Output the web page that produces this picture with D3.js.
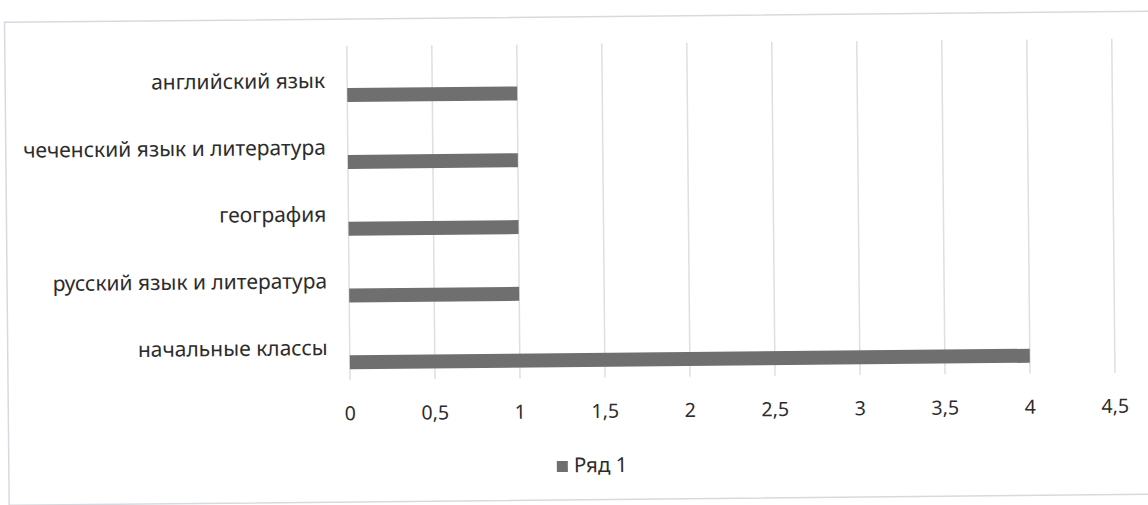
<!DOCTYPE html>
<html>
<head>
<meta charset="utf-8">
<script src="https://cdn.jsdelivr.net/npm/d3@7"></script>
<style>
    body { margin: 0; background: #ffffff; }
    text { font-family: "Noto Sans", "Open Sans", sans-serif; fill: #2c2c2c; }
</style>
</head>
<body>
<script>
// categories top to bottom, as on the chart
var categories = ["английский язык", "чеченский язык и литература", "география", "русский язык и литература", "начальные классы"];
var values = [1, 1, 1, 1, 4];
var xTicks = [0, 0.5, 1, 1.5, 2, 2.5, 3, 3.5, 4, 4.5];
var seriesName = "Ряд 1";

var width = 1148,
    height = 505;

var svg = d3.select("body").append("svg")
    .attr("width", width)
    .attr("height", height);

// the scan is slightly tilted
var chart = svg.append("g")
    .attr("transform", "rotate(-0.55, 350, 380)");

// chart border
chart.append("rect")
    .attr("x", 8)
    .attr("y", 19)
    .attr("width", 1160)
    .attr("height", 483)
    .attr("fill", "none")
    .attr("stroke", "#d6dae0")
    .attr("stroke-width", 1.5);

var x = d3.scaleLinear()
    .domain([0, 4.5])
    .range([350, 1115]);

var y = d3.scaleBand()
    .domain(categories)
    .range([46, 380]);

var commaFormat = d3.formatLocale({decimal: ",", thousands: " ", grouping: [3], currency: ["", ""]}).format("~g");

// vertical gridlines
chart.selectAll("line.grid")
    .data(xTicks)
    .enter().append("line")
    .attr("class", "grid")
    .attr("x1", function(d){ return x(d); })
    .attr("x2", function(d){ return x(d); })
    .attr("y1", y.range()[0])
    .attr("y2", y.range()[1])
    .attr("stroke", "#dcdfe4")
    .attr("stroke-width", 1.5);

// bars sit in the lower part of each band
var barHeight = 14;
chart.selectAll("rect.bar")
    .data(values)
    .enter().append("rect")
    .attr("class", "bar")
    .attr("x", x(0))
    .attr("y", function(d, i){ return y(categories[i]) + y.bandwidth() * 0.63; })
    .attr("width", function(d){ return x(d) - x(0); })
    .attr("height", barHeight)
    .attr("fill", "#6f6f6f");

// category labels
chart.selectAll("text.cat")
    .data(categories)
    .enter().append("text")
    .attr("class", "cat")
    .attr("x", 328)
    .attr("y", function(d){ return y(d) + y.bandwidth() * 0.54; })
    .attr("text-anchor", "end")
    .attr("dominant-baseline", "middle")
    .attr("font-size", 21)
    .text(function(d){ return d; });

// x tick labels
chart.selectAll("text.tick")
    .data(xTicks)
    .enter().append("text")
    .attr("class", "tick")
    .attr("x", function(d){ return x(d); })
    .attr("y", 415)
    .attr("text-anchor", "middle")
    .attr("dominant-baseline", "middle")
    .attr("font-size", 19.5)
    .text(function(d){ return commaFormat(d); });

// legend
var legend = chart.append("g");
legend.append("rect")
    .attr("x", 556)
    .attr("y", 463)
    .attr("width", 11)
    .attr("height", 11)
    .attr("fill", "#6f6f6f");
legend.append("text")
    .attr("x", 573)
    .attr("y", 469)
    .attr("dominant-baseline", "middle")
    .attr("font-size", 20.5)
    .text(seriesName);
</script>
</body>
</html>
